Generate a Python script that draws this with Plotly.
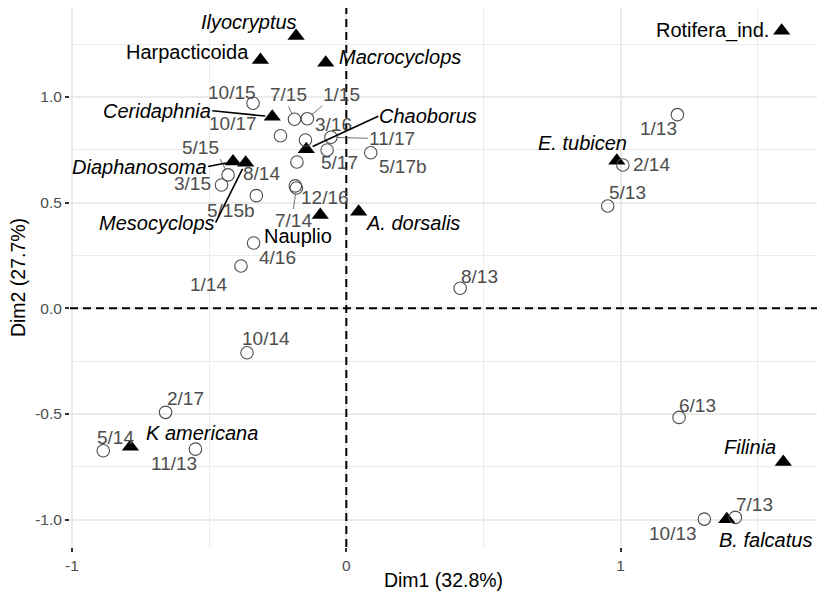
import plotly.graph_objects as go

# ---- data ----
sample_names = ["10/15", "7/15", "1/15", "10/17", "3/16", "11/17", "5/17", "5/17b",
                "8/14", "5/15", "3/15", "5/15b", "12/16", "7/14", "4/16", "1/14",
                "8/13", "10/14", "2/17", "5/14", "11/13", "1/13", "2/14", "5/13",
                "6/13", "10/13", "7/13"]
sample_dim1 = [-0.340, -0.189, -0.142, -0.240, -0.149, -0.056, -0.070, 0.089,
               -0.180, -0.431, -0.455, -0.328, -0.186, -0.182, -0.338, -0.384,
               0.415, -0.362, -0.659, -0.886, -0.550, 1.207, 1.008, 0.953,
               1.213, 1.305, 1.418]
sample_dim2 = [0.970, 0.894, 0.897, 0.816, 0.796, 0.809, 0.749, 0.736,
               0.692, 0.631, 0.583, 0.533, 0.579, 0.569, 0.309, 0.200,
               0.095, -0.210, -0.492, -0.674, -0.666, 0.916, 0.678, 0.484,
               -0.516, -0.997, -0.989]

species_names = ["Ilyocryptus", "Harpacticoida", "Macrocyclops", "Ceridaphnia",
                 "Chaoborus", "Diaphanosoma", "Mesocyclops", "Nauplio",
                 "A. dorsalis", "E. tubicen", "Rotifera_ind.", "Filinia",
                 "B. falcatus", "K americana"]
species_dim1 = [-0.183, -0.313, -0.075, -0.270, -0.146, -0.413, -0.367, -0.095,
                0.045, 0.986, 1.587, 1.593, 1.387, -0.787]
species_dim2 = [1.288, 1.175, 1.162, 0.906, 0.752, 0.694, 0.689, 0.441,
                0.457, 0.698, 1.313, -0.727, -0.998, -0.655]
species_italic = [True, False, True, True, True, True, True, False,
                  True, True, False, True, True, True]

x_ticks = [-1, 0, 1]
x_ticktext = ["-1", "0", "1"]
y_ticks = [-1.0, -0.5, 0.0, 0.5, 1.0]
y_ticktext = ["-1.0", "-0.5", "0.0", "0.5", "1.0"]
x_title = "Dim1 (32.8%)"
y_title = "Dim2 (27.7%)"

# ---- label placement (pixel offsets, style only) ----
# (dx, dy, segment, xanchor, yanchor)
sample_label_pos = [
    (-21, -11, False, "center", "middle"),
    (-6, -13, True, "center", "bottom"),
    (15, -13, True, "left", "bottom"),
    (-47, -12, False, "center", "middle"),
    (28, -16, False, "center", "middle"),
    (37, 1, True, "left", "middle"),
    (12, 13, False, "center", "middle"),
    (32, 14, False, "center", "middle"),
    (-35, 11, False, "center", "middle"),
    (-8, -16, True, "right", "bottom"),
    (-29, -2, False, "center", "middle"),
    (-25, 15, False, "center", "middle"),
    (30, 12, False, "center", "middle"),
    (-3, 21, True, "center", "top"),
    (24, 15, False, "center", "middle"),
    (-32, 18, False, "center", "middle"),
    (19, -12, False, "center", "middle"),
    (19, -14, False, "center", "middle"),
    (20, -14, False, "center", "middle"),
    (12, -13, False, "center", "middle"),
    (-21, 14, False, "center", "middle"),
    (-19, 14, False, "center", "middle"),
    (29, 0, False, "center", "middle"),
    (20, -13, False, "center", "middle"),
    (18, -12, False, "center", "middle"),
    (-31, 14, False, "center", "middle"),
    (19, -13, False, "center", "middle"),
]
species_label_pos = [
    (-47, -14, False, "center", "middle"),
    (-73, -8, False, "center", "middle"),
    (74, -6, False, "center", "middle"),
    (-60, -6, True, "right", "middle"),
    (72, -33, True, "left", "middle"),
    (-25, 5, True, "right", "middle"),
    (-30, 60, True, "right", "middle"),
    (-22, 21, False, "center", "middle"),
    (54, 11, False, "center", "middle"),
    (-34, -18, False, "center", "middle"),
    (-69, 0, False, "center", "middle"),
    (-33, -15, False, "center", "middle"),
    (39, 21, False, "center", "middle"),
    (72, -14, False, "center", "middle"),
]

FONT = "Liberation Sans, Arial, Helvetica, sans-serif"
GREY = "#4d4d4d"

fig = go.Figure()
fig.add_trace(go.Scatter(
    x=species_dim1, y=species_dim2, mode="markers",
    marker=dict(symbol="triangle-up", size=15, color="black"),
    hoverinfo="text", text=species_names, showlegend=False))
fig.add_trace(go.Scatter(
    x=sample_dim1, y=sample_dim2, mode="markers",
    marker=dict(symbol="circle-open", size=12.5, color=GREY, line=dict(width=1.1, color=GREY)),
    hoverinfo="text", text=sample_names, showlegend=False))

annotations = []
for name, x, y, (dx, dy, seg, xa, ya) in zip(sample_names, sample_dim1, sample_dim2, sample_label_pos):
    if seg:
        annotations.append(dict(x=x, y=y, text=name, showarrow=True, ax=dx, ay=dy,
                                arrowhead=0, arrowwidth=0.8, arrowcolor=GREY, standoff=6,
                                xanchor=xa, yanchor=ya, borderpad=0,
                                font=dict(family=FONT, size=19, color=GREY)))
    else:
        annotations.append(dict(x=x, y=y, text=name, showarrow=False, xshift=dx, yshift=-dy,
                                xanchor=xa, yanchor=ya,
                                font=dict(family=FONT, size=19, color=GREY)))
for name, x, y, it, (dx, dy, seg, xa, ya) in zip(species_names, species_dim1, species_dim2,
                                                 species_italic, species_label_pos):
    txt = f"<i>{name}</i>" if it else name
    if seg:
        annotations.append(dict(x=x, y=y, text=txt, showarrow=True, ax=dx, ay=dy,
                                arrowhead=0, arrowwidth=1.6, arrowcolor="black", standoff=7,
                                xanchor=xa, yanchor=ya, borderpad=0,
                                font=dict(family=FONT, size=20, color="black")))
    else:
        annotations.append(dict(x=x, y=y, text=txt, showarrow=False, xshift=dx, yshift=-dy,
                                xanchor=xa, yanchor=ya,
                                font=dict(family=FONT, size=20, color="black")))

shapes = [
    dict(type="line", xref="paper", x0=0, x1=1, yref="y", y0=0, y1=0,
         line=dict(color="black", width=2, dash="8px,5px"), layer="above"),
    dict(type="line", yref="paper", y0=0, y1=1, xref="x", x0=0, x1=0,
         line=dict(color="black", width=2, dash="8px,5px"), layer="above"),
]

axis_common = dict(showline=False, zeroline=False, showgrid=True, gridcolor="#ebebeb",
                   gridwidth=1.6, ticks="outside", ticklen=4, tickwidth=1.5, automargin=False,
                   tickcolor="#333333", tickfont=dict(family=FONT, size=15.5, color=GREY),
                   title_font=dict(family=FONT, size=19.5, color="black"))

fig.update_layout(
    width=817, height=596,
    margin=dict(l=70, r=0, t=8, b=49),
    paper_bgcolor="white", plot_bgcolor="white",
    annotations=annotations,
    shapes=shapes,
    xaxis=dict(range=[-1.0073, 1.7158], tickmode="array", tickvals=x_ticks,
               ticktext=x_ticktext, title=dict(text=x_title, standoff=0),
               minor=dict(tickvals=[-0.5, 0.5, 1.5], showgrid=True, gridcolor="#ebebeb",
                          gridwidth=1.2, ticks=""),
               **axis_common),
    yaxis=dict(range=[-1.129, 1.4205], tickmode="array", tickvals=y_ticks,
               ticktext=y_ticktext, title=dict(text=y_title, standoff=4),
               minor=dict(tickvals=[-0.75, -0.25, 0.25, 0.75, 1.25], showgrid=True,
                          gridcolor="#ebebeb", gridwidth=1.2, ticks=""),
               **axis_common),
)

fig.write_html("out.html", config={"displayModeBar": False},
               post_script="document.body.style.margin='0';document.body.style.overflow='hidden';")
